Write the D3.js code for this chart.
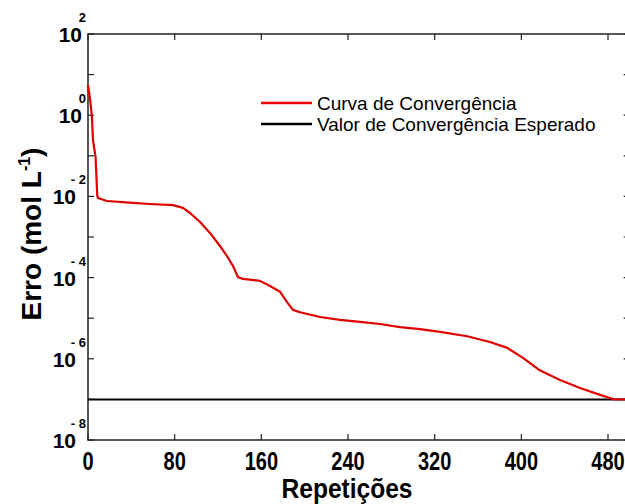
<!DOCTYPE html>
<html>
<head>
<meta charset="utf-8">
<script src="https://cdn.jsdelivr.net/npm/d3@7"></script>
<style>
  html, body { margin: 0; padding: 0; background: #fff; }
  svg { display: block; }
  text { font-family: "Liberation Sans", Arial, sans-serif; }
</style>
</head>
<body>
<svg id="chart" width="625" height="504"></svg>
<script>
// Iteration number and error of the convergence curve
const reps = [0, 1, 2, 3, 3.6, 4.6, 7, 8.5, 9.2, 17.5, 41.5, 57, 78.5, 87.7, 94.2, 103.4, 112.6,
  121.8, 128.3, 133.8, 138.5, 143.1, 158.8, 168, 177.2, 183.7, 189.2, 195.7, 214.2, 232.6,
  251.1, 269.5, 288, 306.5, 325, 350, 371, 387, 401.5, 417, 435.7, 454.2, 472.6, 484.6, 500];
const erro = [5.55, 3.6, 2.37, 1.34, 0.9, 0.245, 0.093, 0.0108, 0.0091, 0.0077, 0.0069, 0.0065,
  0.0061, 0.0052, 0.0039, 0.00234, 0.00126, 6.0e-4, 3.4e-4, 1.95e-4, 1.02e-4, 9.3e-5, 8.3e-5,
  6.2e-5, 4.5e-5, 2.5e-5, 1.6e-5, 1.4e-5, 1.07e-5, 9.1e-6, 8.1e-6, 7.2e-6, 6.0e-6, 5.4e-6,
  4.6e-6, 3.6e-6, 2.6e-6, 1.86e-6, 1.05e-6, 5.2e-7, 3.0e-7, 1.9e-7, 1.29e-7, 1.02e-7, 1.0e-7];
// Expected convergence value
const esperado = 1e-7;
const xTicks = [0, 80, 160, 240, 320, 400, 480];
const yLabelExps = [2, 0, -2, -4, -6, -8];
const yDecades = d3.range(-8, 3);
const legendItems = ["Curva de Convergência", "Valor de Convergência Esperado"];

const svg = d3.select("#chart");
const plotLeft = 88, plotTop = 34, plotBottom = 440;
const x = d3.scaleLinear().domain([0, 500]).range([plotLeft, plotLeft + 500 * 86.67 / 80]);
const y = d3.scaleLog().domain([1e-8, 1e2]).range([plotBottom, plotTop]);
const plotRight = x(500);
const axisColor = "#222";

// plot frame
svg.append("rect")
  .attr("x", plotLeft).attr("y", plotTop)
  .attr("width", plotRight - plotLeft).attr("height", plotBottom - plotTop)
  .attr("fill", "none").attr("stroke", axisColor).attr("stroke-width", 1.5);

// x ticks (bottom and top, pointing inward)
const tickLen = 6;
svg.append("g").selectAll("line").data(xTicks).join("line")
  .attr("x1", d => x(d)).attr("x2", d => x(d))
  .attr("y1", plotBottom).attr("y2", plotBottom - tickLen)
  .attr("stroke", axisColor).attr("stroke-width", 1.2);
svg.append("g").selectAll("line").data(xTicks).join("line")
  .attr("x1", d => x(d)).attr("x2", d => x(d))
  .attr("y1", plotTop).attr("y2", plotTop + tickLen)
  .attr("stroke", axisColor).attr("stroke-width", 1.2);

// y ticks at every decade (left and right)
svg.append("g").selectAll("line").data(yDecades).join("line")
  .attr("x1", plotLeft).attr("x2", plotLeft + tickLen)
  .attr("y1", d => y(Math.pow(10, d))).attr("y2", d => y(Math.pow(10, d)))
  .attr("stroke", axisColor).attr("stroke-width", 1.2);
svg.append("g").selectAll("line").data(yDecades).join("line")
  .attr("x1", plotRight).attr("x2", plotRight - tickLen)
  .attr("y1", d => y(Math.pow(10, d))).attr("y2", d => y(Math.pow(10, d)))
  .attr("stroke", axisColor).attr("stroke-width", 1.2);

// x tick labels (tall, narrow digits)
svg.append("g").selectAll("text").data(xTicks).join("text")
  .attr("transform", d => `translate(${x(d)}, 470) scale(1, 1.25)`)
  .attr("text-anchor", "middle")
  .attr("font-size", 20).attr("font-weight", "bold")
  .text(d => d);

// y tick labels: 10 with raised exponent
const yl = svg.append("g").selectAll("g").data(yLabelExps).join("g");
yl.append("text")
  .attr("x", d => d < 0 ? 76 : 82).attr("y", d => y(Math.pow(10, d)) + 8)
  .attr("text-anchor", "end")
  .attr("font-size", 21).attr("font-weight", "bold")
  .text("10");
yl.append("text")
  .attr("x", 86).attr("y", d => y(Math.pow(10, d)) - 12)
  .attr("text-anchor", "end")
  .attr("font-size", 13).attr("font-weight", "bold")
  .style("white-space", "pre")
  .text(d => d < 0 ? "- " + Math.abs(d) : String(d));

// expected value line
svg.append("line")
  .attr("x1", plotLeft).attr("x2", plotRight)
  .attr("y1", y(esperado)).attr("y2", y(esperado))
  .attr("stroke", "#000").attr("stroke-width", 2);

// convergence curve
const pts = reps.map((r, i) => [r, erro[i]]);
svg.append("path")
  .datum(pts)
  .attr("fill", "none")
  .attr("stroke", "#e00000")
  .attr("stroke-width", 2.2)
  .attr("stroke-linejoin", "round")
  .attr("d", d3.line().x(d => x(d[0])).y(d => y(d[1])));

// legend
const legColors = ["#f00000", "#000"];
const lg = svg.append("g").selectAll("g").data(legendItems).join("g")
  .attr("transform", (d, i) => `translate(0, ${103 + i * 21})`);
lg.append("line")
  .attr("x1", 261).attr("x2", 312).attr("y1", 0).attr("y2", 0)
  .attr("stroke", (d, i) => legColors[i]).attr("stroke-width", 2.5);
lg.append("text")
  .attr("x", 317).attr("y", 7)
  .attr("font-size", 19)
  .text(d => d);

// axis titles
svg.append("text")
  .attr("x", 347).attr("y", 498)
  .attr("text-anchor", "middle")
  .attr("font-size", 27).attr("font-weight", "bold")
  .attr("textLength", 131).attr("lengthAdjust", "spacingAndGlyphs")
  .text("Repetições");

const yt = svg.append("text")
  .attr("transform", "translate(41, 234) rotate(-90)")
  .attr("text-anchor", "middle")
  .attr("font-size", 28).attr("font-weight", "bold");
yt.append("tspan").text("Erro (mol L");
yt.append("tspan").attr("font-size", 16).attr("dy", -11).text("-1");
yt.append("tspan").attr("dy", 11).text(")");
</script>
</body>
</html>
